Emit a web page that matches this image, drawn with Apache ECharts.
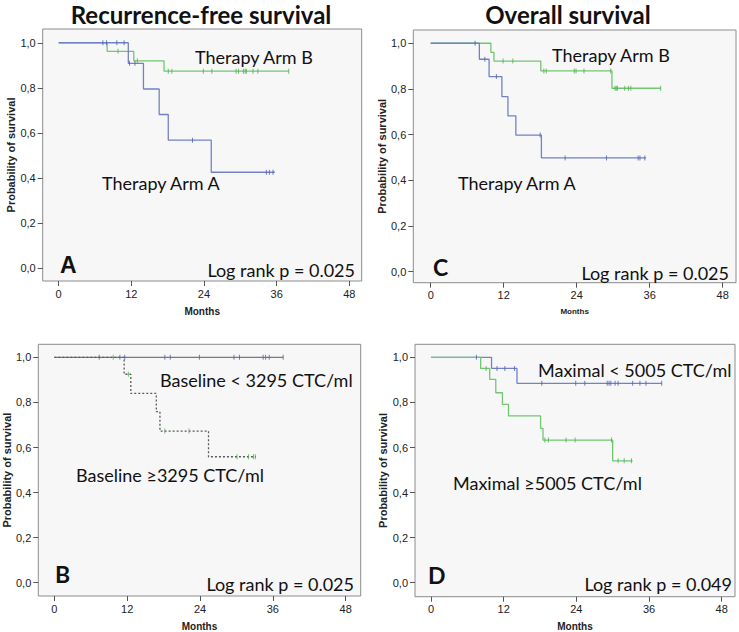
<!DOCTYPE html>
<html>
<head>
<meta charset="utf-8">
<script src="https://cdn.jsdelivr.net/npm/echarts@6/dist/echarts.min.js"></script>
<style>html,body{margin:0;padding:0;background:#fff;}#c{width:739px;height:632px;}</style>
</head>
<body>
<div id="c"></div>
<script>
// ---- Data ----
var xTicks = [0, 12, 24, 36, 48];
var yTicks = [0, 0.2, 0.4, 0.6, 0.8, 1.0];

// Panel A: Recurrence-free survival
var rfsArmA_t = [0, 11.5, 14.0, 16.6, 18.1, 25.2, 35.7];
var rfsArmA_s = [1, 0.909, 0.795, 0.682, 0.568, 0.426, 0.426];
var rfsArmA_cens_t = [7.3, 7.9, 9.6, 10.8, 11.7, 12.6, 22.1, 34.3, 34.8, 35.4];
var rfsArmA_cens_s = [1, 1, 1, 1, 0.909, 0.909, 0.568, 0.426, 0.426, 0.426];
var rfsArmB_t = [0, 8.0, 12.4, 17.4, 38.0];
var rfsArmB_s = [1, 0.962, 0.920, 0.874, 0.874];
var rfsArmB_cens_t = [9.8, 13.0, 18.1, 18.7, 23.9, 25.3, 29.3, 29.7, 30.5, 30.8, 31.0, 32.1, 32.9, 38.0];
var rfsArmB_cens_s = [0.962, 0.920, 0.874, 0.874, 0.874, 0.874, 0.874, 0.874, 0.874, 0.874, 0.874, 0.874, 0.874, 0.874];

// Panel C: Overall survival
var osArmA_t = [0, 8.0, 9.6, 11.7, 12.7, 14.0, 18.2, 35.4];
var osArmA_s = [1, 0.930, 0.854, 0.766, 0.682, 0.598, 0.498, 0.498];
var osArmA_cens_t = [7.3, 8.9, 10.8, 18.0, 22.1, 28.9, 34.1, 34.4, 35.2];
var osArmA_cens_s = [1, 0.930, 0.854, 0.598, 0.498, 0.498, 0.498, 0.498, 0.498];
var osArmB_t = [0, 9.9, 10.4, 18.1, 29.8, 37.8];
var osArmB_s = [1, 0.960, 0.922, 0.879, 0.803, 0.803];
var osArmB_cens_t = [11.9, 13.5, 18.6, 19.0, 23.6, 23.9, 25.2, 29.6, 30.3, 30.5, 30.7, 31.9, 32.5, 32.9, 37.8];
var osArmB_cens_s = [0.922, 0.922, 0.879, 0.879, 0.879, 0.879, 0.879, 0.879, 0.803, 0.803, 0.803, 0.803, 0.803, 0.803, 0.803];

// Panel B: Baseline CTC
var baseLow_t = [0, 37.7];
var baseLow_s = [1, 1];
var baseLow_cens_t = [7.4, 10.8, 11.6, 18.2, 19.1, 23.9, 29.6, 30.5, 34.4, 34.8, 35.4, 37.7];
var baseLow_cens_s = [1, 1, 1, 1, 1, 1, 1, 1, 1, 1, 1, 1];
var baseHigh_t = [0, 11.5, 12.6, 16.8, 17.4, 25.4, 33.2];
var baseHigh_s = [1, 0.925, 0.840, 0.759, 0.673, 0.559, 0.559];
var baseHigh_cens_t = [9.7, 12.2, 18.2, 22.2, 30.1, 32.0, 32.8, 33.1];
var baseHigh_cens_s = [1, 0.925, 0.673, 0.673, 0.559, 0.559, 0.559, 0.559];

// Panel D: Maximal CTC
var maxLow_t = [0, 10.0, 14.2, 38.1];
var maxLow_s = [1, 0.951, 0.885, 0.885];
var maxLow_cens_t = [7.5, 10.9, 12.2, 13.8, 18.3, 23.9, 25.4, 29.1, 29.4, 29.7, 30.4, 30.9, 33.3, 34.5, 35.5, 38.1];
var maxLow_cens_s = [1, 0.951, 0.951, 0.951, 0.885, 0.885, 0.885, 0.885, 0.885, 0.885, 0.885, 0.885, 0.885, 0.885, 0.885, 0.885];
var maxHigh_t = [0, 8.2, 9.7, 10.7, 11.8, 12.8, 18.1, 18.5, 30.0, 33.3];
var maxHigh_s = [1, 0.951, 0.902, 0.843, 0.791, 0.740, 0.685, 0.633, 0.541, 0.541];
var maxHigh_cens_t = [9.1, 18.8, 19.4, 22.3, 23.8, 29.8, 30.9, 31.9, 33.1];
var maxHigh_cens_s = [0.951, 0.633, 0.633, 0.633, 0.633, 0.633, 0.541, 0.541, 0.541];

// ---- Build chart ----
var BLUE = '#7282c6', GREEN = '#72c672', GREYLINE = '#7a7a7a', GREYDOT = '#5a5a5a';
function zip(t, s) { return t.map(function (v, i) { return [v, s[i]]; }); }

var grids = [
  { left: 42.7, top: 29, width: 319, height: 252 },   // A
  { left: 413.3, top: 30, width: 322.7, height: 252.7 }, // C
  { left: 38.3, top: 344.3, width: 322.4, height: 251.7 }, // B
  { left: 415, top: 344.3, width: 320, height: 252.4 }  // D
];
// axis ranges per panel [xmin,xmax,ymin,ymax]
var ranges = [
  [-2.64, 50.05, -0.056, 1.061],
  [-2.86, 50.19, -0.048, 1.058],
  [-2.64, 50.47, -0.059, 1.058],
  [-2.64, 50.2, -0.062, 1.058]
];
var months = ['Months', 'Months', 'Months', 'Months'];

var option = {
  animation: false,
  backgroundColor: '#ffffff',
  grid: grids.map(function (g) {
    return Object.assign({ show: true, backgroundColor: '#f7f7f7', borderColor: '#8c8c8c', borderWidth: 1, containLabel: false, outerBoundsMode: 'none' }, g);
  }),
  xAxis: ranges.map(function (r, i) {
    return {
      type: 'value', gridIndex: i, min: r[0], max: r[1], position: 'bottom',
      axisLine: { show: false, onZero: false },
      splitLine: { show: false },
      axisTick: { show: true, inside: false, length: 5, lineStyle: { color: '#555' }, customValues: xTicks },
      axisLabel: { show: true, customValues: xTicks, color: '#222', fontFamily: 'Liberation Sans', fontSize: 11, margin: 7 },
      name: months[i], nameLocation: 'middle', nameGap: 25,
      nameTextStyle: { fontFamily: 'Liberation Sans', fontWeight: 'bold', fontSize: i === 1 ? 8 : 10, color: '#222' }
    };
  }),
  yAxis: ranges.map(function (r, i) {
    return {
      type: 'value', gridIndex: i, min: r[2], max: r[3], position: 'left',
      axisLine: { show: false, onZero: false },
      splitLine: { show: false },
      axisTick: { show: true, inside: false, length: 5, lineStyle: { color: '#555' }, customValues: yTicks },
      axisLabel: { show: true, customValues: yTicks, color: '#222', fontFamily: 'Liberation Sans', fontSize: 11, margin: 7,
        formatter: function (v) { return v.toFixed(1).replace('.', ','); } },
      name: 'Probability of survival', nameLocation: 'middle', nameRotate: 90, nameGap: 26,
      nameTextStyle: { fontFamily: 'Liberation Sans', fontWeight: 'bold', fontSize: 11, color: '#222' }
    };
  }),
  series: [],
  graphic: []
};

function addCurve(gi, t, s, ct, cs, lineColor, censColor, dotted) {
  option.series.push({
    type: 'line', xAxisIndex: gi, yAxisIndex: gi, step: 'end', showSymbol: false, silent: true,
    data: zip(t, s),
    lineStyle: { color: lineColor, width: 1.3, type: dotted ? [2, 2] : 'solid' },
    z: 2
  });
  option.series.push({
    type: 'scatter', xAxisIndex: gi, yAxisIndex: gi, silent: true,
    data: zip(ct, cs), symbol: 'rect', symbolSize: [1, 5],
    itemStyle: { color: censColor }, z: 3
  });
}

addCurve(0, rfsArmB_t, rfsArmB_s, rfsArmB_cens_t, rfsArmB_cens_s, GREEN, '#4fae4f', false);
addCurve(0, rfsArmA_t, rfsArmA_s, rfsArmA_cens_t, rfsArmA_cens_s, BLUE, '#4e60b4', false);
addCurve(1, osArmB_t, osArmB_s, osArmB_cens_t, osArmB_cens_s, GREEN, '#4fae4f', false);
addCurve(1, osArmA_t, osArmA_s, osArmA_cens_t, osArmA_cens_s, BLUE, '#4e60b4', false);
addCurve(2, baseLow_t, baseLow_s, baseLow_cens_t, baseLow_cens_s, GREYLINE, '#4e60b4', false);
addCurve(2, baseHigh_t, baseHigh_s, baseHigh_cens_t, baseHigh_cens_s, GREYDOT, '#4fae4f', true);
addCurve(3, maxLow_t, maxLow_s, maxLow_cens_t, maxLow_cens_s, BLUE, '#4e60b4', false);
addCurve(3, maxHigh_t, maxHigh_s, maxHigh_cens_t, maxHigh_cens_s, GREEN, '#4fae4f', false);

function txt(x, y, text, size, weight, align, family) {
  option.graphic.push({
    type: 'text', x: x, y: y, silent: true, z: 10,
    style: { text: text, fill: '#111', fontSize: size, fontWeight: weight || 'normal',
      fontFamily: family || 'Lato', textAlign: align || 'left', textVerticalAlign: 'middle', verticalAlign: 'middle' }
  });
}
var ANN = 18;
// titles
txt(201, 14, 'Recurrence-free survival', 24, 'bold', 'center');
txt(568, 14, 'Overall survival', 24, 'bold', 'center');
// panel A
txt(195, 57, 'Therapy Arm B', ANN);
txt(102, 183, 'Therapy Arm A', ANN);
txt(355, 270, 'Log rank p = 0.025', ANN, 'normal', 'right');
txt(60, 265, 'A', 23, 'bold', 'left', 'Liberation Sans');
// panel C
txt(552, 55, 'Therapy Arm B', ANN);
txt(458, 183, 'Therapy Arm A', ANN);
txt(729, 273, 'Log rank p = 0.025', ANN, 'normal', 'right');
txt(433, 267, 'C', 23, 'bold', 'left', 'Lato');
// panel B
txt(160, 380, 'Baseline < 3295 CTC/ml', ANN);
txt(76, 475, 'Baseline \u22653295 CTC/ml', ANN);
txt(354, 584, 'Log rank p = 0.025', ANN, 'normal', 'right');
txt(55, 574, 'B', 23, 'bold', 'left', 'Lato');
// panel D
txt(538, 370, 'Maximal < 5005 CTC/ml', ANN);
txt(453, 483, 'Maximal \u22655005 CTC/ml', ANN);
txt(732, 584, 'Log rank p = 0.049', ANN, 'normal', 'right');
txt(428, 575, 'D', 23, 'bold', 'left', 'Lato');

var chart = echarts.init(document.getElementById('c'), null, { renderer: 'svg' });
chart.setOption(option);
</script>
</body>
</html>
